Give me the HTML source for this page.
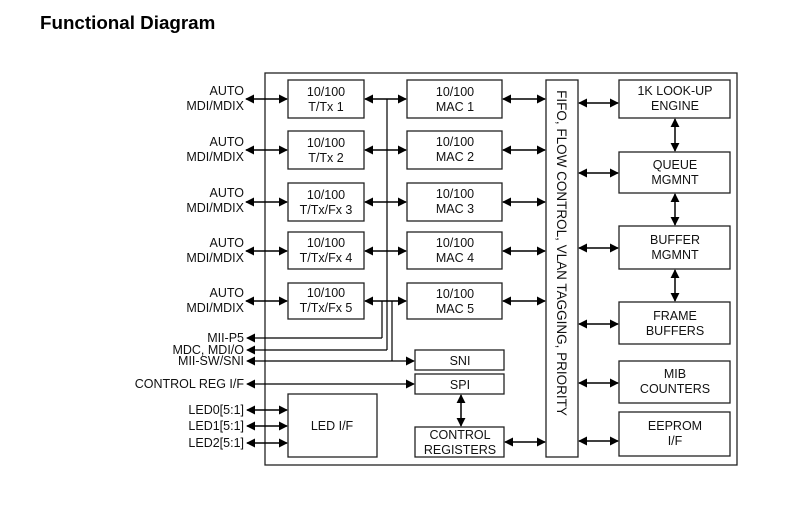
<!DOCTYPE html>
<html><head><meta charset="utf-8"><style>
html,body{margin:0;padding:0;background:#fff;}
svg{display:block;}
text{font-family:"Liberation Sans",Arial,sans-serif;font-size:12.5px;fill:#111;}
</style></head><body>
<svg width="790" height="508" viewBox="0 0 790 508" xmlns="http://www.w3.org/2000/svg">
<defs>
<marker id="a" viewBox="0 0 10 10" refX="9" refY="5" markerWidth="9" markerHeight="9" markerUnits="userSpaceOnUse" orient="auto-start-reverse"><path d="M0,0 L10,5 L0,10 z" fill="#000"/></marker>
</defs>
<text x="40" y="29" style="font-size:18.8px;font-weight:bold;fill:#000">Functional Diagram</text>
<g fill="none" stroke="#222" stroke-width="1.3">
<rect x="265" y="73" width="472" height="392"/>
<rect x="546" y="80" width="32" height="377"/>
<rect x="288" y="80" width="76" height="38"/>
<rect x="288" y="131" width="76" height="38"/>
<rect x="288" y="183" width="76" height="38"/>
<rect x="288" y="232" width="76" height="37"/>
<rect x="288" y="283" width="76" height="36"/>
<rect x="407" y="80" width="95" height="38"/>
<rect x="407" y="131" width="95" height="38"/>
<rect x="407" y="183" width="95" height="38"/>
<rect x="407" y="232" width="95" height="37"/>
<rect x="407" y="283" width="95" height="36"/>
<rect x="619" y="80" width="111" height="38"/>
<rect x="619" y="152" width="111" height="41"/>
<rect x="619" y="226" width="111" height="43"/>
<rect x="619" y="302" width="111" height="42"/>
<rect x="619" y="361" width="111" height="42"/>
<rect x="619" y="412" width="111" height="44"/>
<rect x="415" y="350" width="89" height="20"/>
<rect x="415" y="374" width="89" height="20"/>
<rect x="415" y="427" width="89" height="30"/>
<rect x="288" y="394" width="89" height="63"/>
</g>
<g stroke="#000" stroke-width="1.5" fill="none">
<line x1="246" y1="99" x2="287" y2="99" marker-start="url(#a)" marker-end="url(#a)"/>
<line x1="246" y1="150" x2="287" y2="150" marker-start="url(#a)" marker-end="url(#a)"/>
<line x1="246" y1="202" x2="287" y2="202" marker-start="url(#a)" marker-end="url(#a)"/>
<line x1="246" y1="251" x2="287" y2="251" marker-start="url(#a)" marker-end="url(#a)"/>
<line x1="246" y1="301" x2="287" y2="301" marker-start="url(#a)" marker-end="url(#a)"/>
<line x1="365" y1="99" x2="406" y2="99" marker-start="url(#a)" marker-end="url(#a)"/>
<line x1="365" y1="150" x2="406" y2="150" marker-start="url(#a)" marker-end="url(#a)"/>
<line x1="365" y1="202" x2="406" y2="202" marker-start="url(#a)" marker-end="url(#a)"/>
<line x1="365" y1="251" x2="406" y2="251" marker-start="url(#a)" marker-end="url(#a)"/>
<line x1="365" y1="301" x2="406" y2="301" marker-start="url(#a)" marker-end="url(#a)"/>
<line x1="503" y1="99" x2="545" y2="99" marker-start="url(#a)" marker-end="url(#a)"/>
<line x1="503" y1="150" x2="545" y2="150" marker-start="url(#a)" marker-end="url(#a)"/>
<line x1="503" y1="202" x2="545" y2="202" marker-start="url(#a)" marker-end="url(#a)"/>
<line x1="503" y1="251" x2="545" y2="251" marker-start="url(#a)" marker-end="url(#a)"/>
<line x1="503" y1="301" x2="545" y2="301" marker-start="url(#a)" marker-end="url(#a)"/>
<line x1="505" y1="442" x2="545" y2="442" marker-start="url(#a)" marker-end="url(#a)"/>
<line x1="579" y1="103" x2="618" y2="103" marker-start="url(#a)" marker-end="url(#a)"/>
<line x1="579" y1="173" x2="618" y2="173" marker-start="url(#a)" marker-end="url(#a)"/>
<line x1="579" y1="248" x2="618" y2="248" marker-start="url(#a)" marker-end="url(#a)"/>
<line x1="579" y1="324" x2="618" y2="324" marker-start="url(#a)" marker-end="url(#a)"/>
<line x1="579" y1="383" x2="618" y2="383" marker-start="url(#a)" marker-end="url(#a)"/>
<line x1="579" y1="441" x2="618" y2="441" marker-start="url(#a)" marker-end="url(#a)"/>
<line x1="675" y1="119" x2="675" y2="151" marker-start="url(#a)" marker-end="url(#a)"/>
<line x1="675" y1="194" x2="675" y2="225" marker-start="url(#a)" marker-end="url(#a)"/>
<line x1="675" y1="270" x2="675" y2="301" marker-start="url(#a)" marker-end="url(#a)"/>
<line x1="461" y1="395" x2="461" y2="426" marker-start="url(#a)" marker-end="url(#a)"/>
<line x1="387" y1="99" x2="387" y2="350" stroke-width="1.2"/>
<line x1="382" y1="301" x2="382" y2="338" stroke-width="1.2"/>
<line x1="392" y1="301" x2="392" y2="361" stroke-width="1.2"/>
<polyline points="382,338 247,338" marker-end="url(#a)" stroke-width="1.2"/>
<polyline points="387,350 247,350" marker-end="url(#a)" stroke-width="1.2"/>
<line x1="247" y1="361" x2="414" y2="361" marker-start="url(#a)" marker-end="url(#a)" stroke-width="1.2"/>
<line x1="247" y1="384" x2="414" y2="384" marker-start="url(#a)" marker-end="url(#a)" stroke-width="1.2"/>
<line x1="247" y1="410" x2="287" y2="410" marker-start="url(#a)" marker-end="url(#a)"/>
<line x1="247" y1="426" x2="287" y2="426" marker-start="url(#a)" marker-end="url(#a)"/>
<line x1="247" y1="443" x2="287" y2="443" marker-start="url(#a)" marker-end="url(#a)"/>
</g>
<g text-anchor="end">
<text x="244" y="95">AUTO</text><text x="244" y="110">MDI/MDIX</text>
<text x="244" y="146">AUTO</text><text x="244" y="161">MDI/MDIX</text>
<text x="244" y="197">AUTO</text><text x="244" y="212">MDI/MDIX</text>
<text x="244" y="247">AUTO</text><text x="244" y="262">MDI/MDIX</text>
<text x="244" y="297">AUTO</text><text x="244" y="312">MDI/MDIX</text>
<text x="244" y="342">MII-P5</text>
<text x="244" y="354">MDC, MDI/O</text>
<text x="244" y="365">MII-SW/SNI</text>
<text x="244" y="388">CONTROL REG I/F</text>
<text x="244" y="414">LED0[5:1]</text>
<text x="244" y="430">LED1[5:1]</text>
<text x="244" y="447">LED2[5:1]</text>
</g>
<g text-anchor="middle">
<text x="326" y="96">10/100</text><text x="326" y="111">T/Tx 1</text>
<text x="326" y="147">10/100</text><text x="326" y="162">T/Tx 2</text>
<text x="326" y="199">10/100</text><text x="326" y="214">T/Tx/Fx 3</text>
<text x="326" y="247">10/100</text><text x="326" y="262">T/Tx/Fx 4</text>
<text x="326" y="297">10/100</text><text x="326" y="312">T/Tx/Fx 5</text>
<text x="455" y="96">10/100</text><text x="455" y="111">MAC 1</text>
<text x="455" y="146">10/100</text><text x="455" y="161">MAC 2</text>
<text x="455" y="198">10/100</text><text x="455" y="213">MAC 3</text>
<text x="455" y="247">10/100</text><text x="455" y="262">MAC 4</text>
<text x="455" y="298">10/100</text><text x="455" y="313">MAC 5</text>
<text x="675" y="95">1K LOOK-UP</text><text x="675" y="110">ENGINE</text>
<text x="675" y="169">QUEUE</text><text x="675" y="184">MGMNT</text>
<text x="675" y="244">BUFFER</text><text x="675" y="259">MGMNT</text>
<text x="675" y="320">FRAME</text><text x="675" y="335">BUFFERS</text>
<text x="675" y="378">MIB</text><text x="675" y="393">COUNTERS</text>
<text x="675" y="430">EEPROM</text><text x="675" y="445">I/F</text>
<text x="460" y="365">SNI</text>
<text x="460" y="389">SPI</text>
<text x="460" y="439">CONTROL</text><text x="460" y="454">REGISTERS</text>
<text x="332" y="430">LED I/F</text>
<text transform="translate(557,253) rotate(90)" style="font-size:13.5px">FIFO, FLOW CONTROL, VLAN TAGGING, PRIORITY</text>
</g>
</svg>
</body></html>
